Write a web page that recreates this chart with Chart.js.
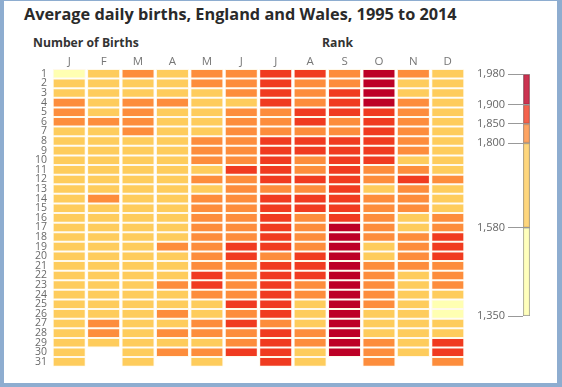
<!DOCTYPE html>
<html>
<head>
<meta charset="utf-8">
<script src="https://cdn.jsdelivr.net/npm/chart.js@4.4.1/dist/chart.umd.min.js"></script>
<style>
  html, body { margin: 0; padding: 0; }
  body { width: 562px; height: 387px; background: #8eadd0; position: relative; overflow: hidden; font-family: "Open Sans", sans-serif; }
  #frame { position: absolute; left: 4px; top: 1px; width: 553px; height: 382px; background: #fff; }
  .txt { position: absolute; white-space: nowrap; color: #333; }
  #title { left: 24px; top: 3px; font-size: 16.3px; font-weight: bold; color: #2a2a2a; }
  #sub1 { left: 33px; top: 34px; font-size: 12.2px; font-weight: bold; }
  #sub2 { left: 322px; top: 34px; font-size: 12.2px; font-weight: bold; }
  #main { position: absolute; left: 0; top: 0; }
  #key { position: absolute; left: 466px; top: 64px; }
</style>
</head>
<body>
<div id="frame"></div>
<div class="txt" id="title">Average daily births, England and Wales, 1995 to 2014</div>
<div class="txt" id="sub1">Number of Births</div>
<div class="txt" id="sub2">Rank</div>
<canvas id="main" width="472" height="378"></canvas>
<canvas id="key" width="76" height="264"></canvas>
<script>
// months, tick letters and day numbers
const months = ['Jan', 'Feb', 'Mar', 'Apr', 'May', 'Jun', 'Jul', 'Aug', 'Sep', 'Oct', 'Nov', 'Dec'];
const monthLetters = ['J', 'F', 'M', 'A', 'M', 'J', 'J', 'A', 'S', 'O', 'N', 'D'];
const days = [1, 2, 3, 4, 5, 6, 7, 8, 9, 10, 11, 12, 13, 14, 15, 16, 17, 18, 19, 20, 21, 22, 23, 24, 25, 26, 27, 28, 29, 30, 31];

// average births per day (null = day doesn't exist)
const jan = [1542, 1762, 1781, 1812, 1808, 1803, 1794, 1788, 1790, 1785, 1779, 1772, 1768, 1775, 1771, 1769, 1766, 1773, 1777, 1781, 1776, 1770, 1763, 1768, 1772, 1765, 1760, 1767, 1771, 1774, 1769];
const feb = [1776, 1783, 1787, 1792, 1797, 1806, 1795, 1789, 1784, 1780, 1778, 1782, 1786, 1818, 1785, 1779, 1774, 1771, 1777, 1780, 1776, 1773, 1770, 1768, 1772, 1775, 1804, 1807, 1745, null, null];
const mar = [1803, 1792, 1796, 1812, 1809, 1806, 1801, 1794, 1788, 1785, 1781, 1777, 1774, 1779, 1782, 1776, 1771, 1768, 1772, 1769, 1765, 1762, 1767, 1770, 1764, 1760, 1757, 1761, 1758, 1763, 1756];
const apr = [1784, 1779, 1782, 1801, 1790, 1785, 1781, 1776, 1772, 1769, 1774, 1778, 1781, 1777, 1773, 1780, 1786, 1792, 1803, 1795, 1790, 1797, 1804, 1798, 1794, 1806, 1796, 1808, 1799, 1811, null];
const may = [1815, 1811, 1793, 1788, 1791, 1796, 1798, 1813, 1819, 1822, 1797, 1824, 1799, 1826, 1829, 1831, 1834, 1828, 1832, 1836, 1838, 1856, 1861, 1841, 1795, 1790, 1823, 1827, 1798, 1830, 1785];
const jun = [1821, 1825, 1818, 1797, 1827, 1830, 1833, 1836, 1838, 1841, 1862, 1840, 1837, 1842, 1845, 1843, 1846, 1848, 1857, 1859, 1844, 1847, 1845, 1842, 1858, 1846, 1860, 1847, 1844, 1863, null];
const jul = [1868, 1872, 1875, 1870, 1846, 1843, 1849, 1871, 1877, 1880, 1883, 1879, 1847, 1882, 1885, 1887, 1884, 1881, 1886, 1848, 1889, 1891, 1888, 1884, 1890, 1886, 1849, 1885, 1882, 1879, 1876];
const aug = [1856, 1843, 1838, 1835, 1853, 1855, 1846, 1858, 1861, 1847, 1844, 1857, 1842, 1859, 1862, 1848, 1845, 1841, 1846, 1853, 1857, 1851, 1844, 1832, 1790, 1776, 1795, 1812, 1826, 1783, 1792];
const sep = [1847, 1849, 1852, 1858, 1856, 1848, 1846, 1862, 1866, 1870, 1874, 1877, 1881, 1885, 1889, 1893, 1908, 1922, 1936, 1948, 1957, 1964, 1969, 1972, 1975, 1973, 1968, 1960, 1952, 1944, null];
const oct = [1933, 1921, 1912, 1904, 1895, 1889, 1883, 1878, 1871, 1866, 1849, 1842, 1797, 1838, 1835, 1831, 1828, 1824, 1798, 1795, 1821, 1819, 1816, 1813, 1810, 1799, 1794, 1796, 1806, 1809, 1812];
const nov = [1812, 1797, 1793, 1806, 1818, 1814, 1821, 1817, 1809, 1798, 1815, 1851, 1822, 1819, 1813, 1796, 1793, 1808, 1811, 1806, 1803, 1799, 1795, 1791, 1787, 1784, 1789, 1793, 1796, 1790, null];
const dec = [1787, 1782, 1785, 1790, 1788, 1784, 1792, 1789, 1793, 1795, 1797, 1808, 1799, 1796, 1798, 1814, 1826, 1857, 1868, 1872, 1843, 1838, 1829, 1702, 1428, 1512, 1684, 1761, 1853, 1856, 1804];

const monthValues = [jan, feb, mar, apr, may, jun, jul, aug, sep, oct, nov, dec];

// colour key breaks
const breaks = [1350, 1580, 1800, 1850, 1900, 1980];
const palette = ['#ffffb2', '#fecc5c', '#fd8d3c', '#f03b20', '#bd0026'];

function colorFor(v) {
  for (let k = palette.length - 1; k >= 0; k--) {
    if (v >= breaks[k]) return palette[k];
  }
  return palette[0];
}

const fontFam = '"Open Sans", sans-serif';

// one dataset per day of month, a floating bar per month
const datasets = days.map((d, i) => ({
  label: 'Day ' + d,
  data: monthValues.map(vals => vals[i] == null ? null : [d - 0.5, d + 0.5]),
  backgroundColor: monthValues.map(vals => vals[i] == null ? 'rgba(0,0,0,0)' : colorFor(vals[i])),
  borderColor: '#fff9ea',
  borderWidth: 1,
  borderSkipped: false,
  grouped: false,
  barPercentage: 1,
  categoryPercentage: 0.96
}));

new Chart(document.getElementById('main'), {
  type: 'bar',
  data: { labels: months, datasets: datasets },
  options: {
    responsive: false,
    animation: false,
    layout: { padding: { top: 55, right: 7, bottom: 5, left: 0 } },
    plugins: { legend: { display: false }, tooltip: { enabled: false } },
    scales: {
      x: {
        position: 'top',
        grid: { display: false, drawTicks: false },
        border: { display: false },
        ticks: {
          padding: 0,
          color: '#777',
          font: { family: fontFam, size: 11.5 },
          callback: (v, i) => monthLetters[i]
        },
        afterFit: s => { s.height = 14; }
      },
      y: {
        type: 'linear',
        reverse: true,
        min: 0.5,
        max: 31.5,
        grid: { display: false, drawTicks: false },
        border: { display: false },
        afterBuildTicks: s => { s.ticks = days.map(d => ({ value: d })); },
        ticks: {
          padding: 5,
          color: '#6a6a6a',
          autoSkip: false,
          font: { family: fontFam, size: 10.5 }
        },
        afterFit: s => { s.width = 52; }
      }
    }
  }
});

// colour key on the right
const keyAlpha = ['rgba(255,255,178,0.85)', 'rgba(254,204,92,0.8)', 'rgba(253,141,60,0.8)', 'rgba(240,59,32,0.8)', 'rgba(189,0,38,0.8)'];
const keySets = palette.map((c, k) => ({
  data: [[breaks[k], breaks[k + 1]]],
  backgroundColor: keyAlpha[k],
  borderColor: '#999',
  borderWidth: 1,
  borderSkipped: false,
  grouped: false,
  barPercentage: 1,
  categoryPercentage: 1
}));

new Chart(document.getElementById('key'), {
  type: 'bar',
  data: { labels: ['key'], datasets: keySets },
  options: {
    responsive: false,
    animation: false,
    layout: { padding: { top: 10, right: 12, bottom: 12, left: 0 } },
    plugins: { legend: { display: false }, tooltip: { enabled: false } },
    scales: {
      x: { display: false },
      y: {
        min: breaks[0],
        max: breaks[breaks.length - 1],
        border: { display: false },
        grid: { drawOnChartArea: false, tickLength: 15, color: '#999' },
        afterBuildTicks: s => { s.ticks = breaks.map(b => ({ value: b })); },
        ticks: {
          padding: 3,
          color: '#666',
          font: { family: fontFam, size: 11 },
          callback: v => v.toLocaleString('en-GB')
        },
        afterFit: s => { s.width = 57; }
      }
    }
  }
});
</script>
</body>
</html>
